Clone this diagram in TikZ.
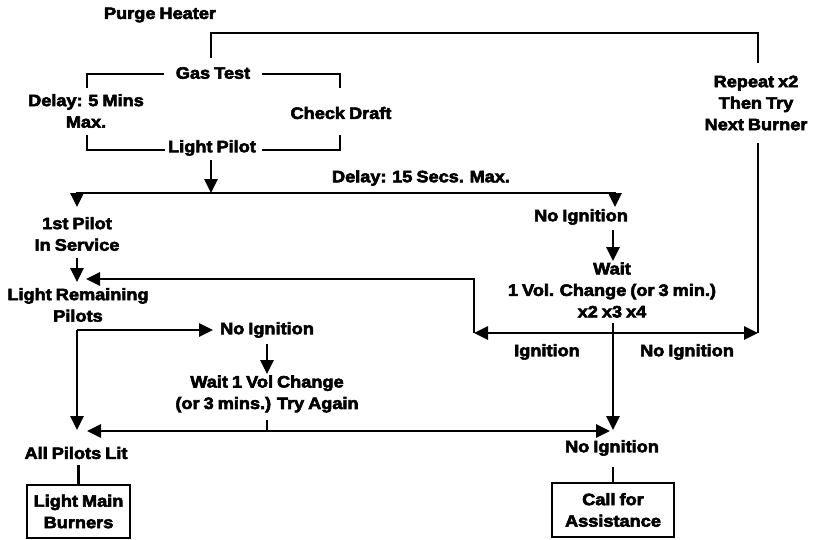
\documentclass[tikz,border=0pt]{standalone}
\usepackage{fontspec}
\newfontfamily\lbl[FakeStretch=1.1,FakeBold=3.5,WordSpace=0.8]{Liberation Sans Bold}
\usetikzlibrary{arrows.meta}
\begin{document}
\begin{tikzpicture}[x=1pt,y=-1pt,
  txt/.style={inner sep=0pt,align=center,font=\lbl\fontsize{16.5}{21.5}\selectfont},
  boxed/.style={txt,draw,line width=2.6pt,minimum width=#1},
  ln/.style={line width=2.6pt},
  arr/.style={ln,-{Triangle[length=14pt,width=13pt]}}]
\useasboundingbox (0,0) rectangle (815,539);
% text nodes
\node[txt] (purge) at (160,15) {Purge Heater};
\node[txt] (gas) at (213,73) {Gas Test};
\node[txt] (delay5) at (86,111) {Delay: 5 Mins\\Max.};
\node[txt] (draft) at (341,113) {Check Draft};
\node[txt] (lp) at (212,148) {Light Pilot};
\node[txt] (repeat) at (756,103) {Repeat x2\\Then Try\\Next Burner};
\node[txt] (delay15) at (421,178) {Delay: 15 Secs. Max.};
\node[txt] (first) at (77,234) {1st Pilot\\In Service};
\node[txt] (ni1) at (581,217) {No Ignition};
\node[txt] (wait) at (612,290) {Wait\\1 Vol. Change (or 3 min.)\\x2 x3 x4};
\node[txt] (ign) at (547,352) {Ignition};
\node[txt] (ni2) at (687,352) {No Ignition};
\node[txt] (lrp) at (78,305) {Light Remaining\\Pilots};
\node[txt] (ni3) at (267,330) {No Ignition};
\node[txt] (wait2) at (267,394) {Wait 1 Vol Change\\(or 3 mins.) Try Again};
\node[txt] (apl) at (76,453) {All Pilots Lit};
\node[txt] (ni4) at (612,448) {No Ignition};
\node[boxed=103pt,minimum height=53pt] (lmb) at (78.5,511.5) {Light Main\\Burners};
\node[boxed=122pt,minimum height=54pt] (cfa) at (613,510) {Call for\\Assistance};
% junction coordinates
\coordinate (gtop) at (211,58);
\coordinate (rtop) at (758,63);
\coordinate (rbot) at (758,143);
\coordinate (gl) at (164,74);
\coordinate (gr) at (262,74);
\coordinate (bl1) at (87,88);
\coordinate (br1) at (340,88);
\coordinate (bl2) at (87,135);
\coordinate (br2) at (340,135);
\coordinate (ll) at (165,150);
\coordinate (lr) at (262,150);
\coordinate (lpdn) at (211,160);
\coordinate (j1) at (211,193);
\coordinate (t1l) at (77,207);
\coordinate (t1r) at (615,207);
\coordinate (fdn) at (77,258);
\coordinate (tlrp) at (77,282);
\coordinate (tlrp2) at (86,279);
\coordinate (n1dn) at (613,230);
\coordinate (twait) at (613,261);
\coordinate (wdn) at (613,323);
\coordinate (j2) at (613,333);
\coordinate (cl) at (474,333);
\coordinate (cr) at (758,333);
\coordinate (cl2) at (474,279);
\coordinate (cA) at (77,330);
\coordinate (tni3) at (213,330);
\coordinate (tapl) at (77,430);
\coordinate (n3dn) at (267,344);
\coordinate (tw2) at (267,374);
\coordinate (w2dn) at (267,420);
\coordinate (j3) at (267,431);
\coordinate (tapl2) at (87,431);
\coordinate (tni4) at (610,431);
\coordinate (tni4b) at (613,430);
\coordinate (n4dn) at (613,467);
\coordinate (apldn) at (78.5,465);
% connectors
\draw[ln] (gtop) |- (rtop |- 0,33) -- (rtop);
\draw[ln] (rbot) -- (cr);
\draw[ln] (gl) -| (bl1);
\draw[ln] (gr) -| (br1);
\draw[ln] (bl2) |- (ll);
\draw[ln] (br2) |- (lr);
\draw[arr] (lpdn) -- (j1);
\draw[arr] (j1) -| (t1l);
\draw[arr] (j1) -| (t1r);
\draw[arr] (fdn) -- (tlrp);
\draw[arr] (n1dn) -- (twait);
\draw[arr] (wdn) -- (tni4b);
\draw[arr] (j2) -- (cl);
\draw[arr] (j2) -- (cr);
\draw[arr] (cl) -- (cl2) -- (tlrp2);
\draw[arr] (cA) -- (tni3);
\draw[arr] (cA) -- (tapl);
\draw[arr] (n3dn) -- (tw2);
\draw[ln] (w2dn) -- (j3);
\draw[arr] (j3) -- (tapl2);
\draw[arr] (j3) -- (tni4);
\draw[ln] (n4dn) -- (cfa.north);
\draw[ln] (apldn) -- (lmb.north);
\end{tikzpicture}
\end{document}
